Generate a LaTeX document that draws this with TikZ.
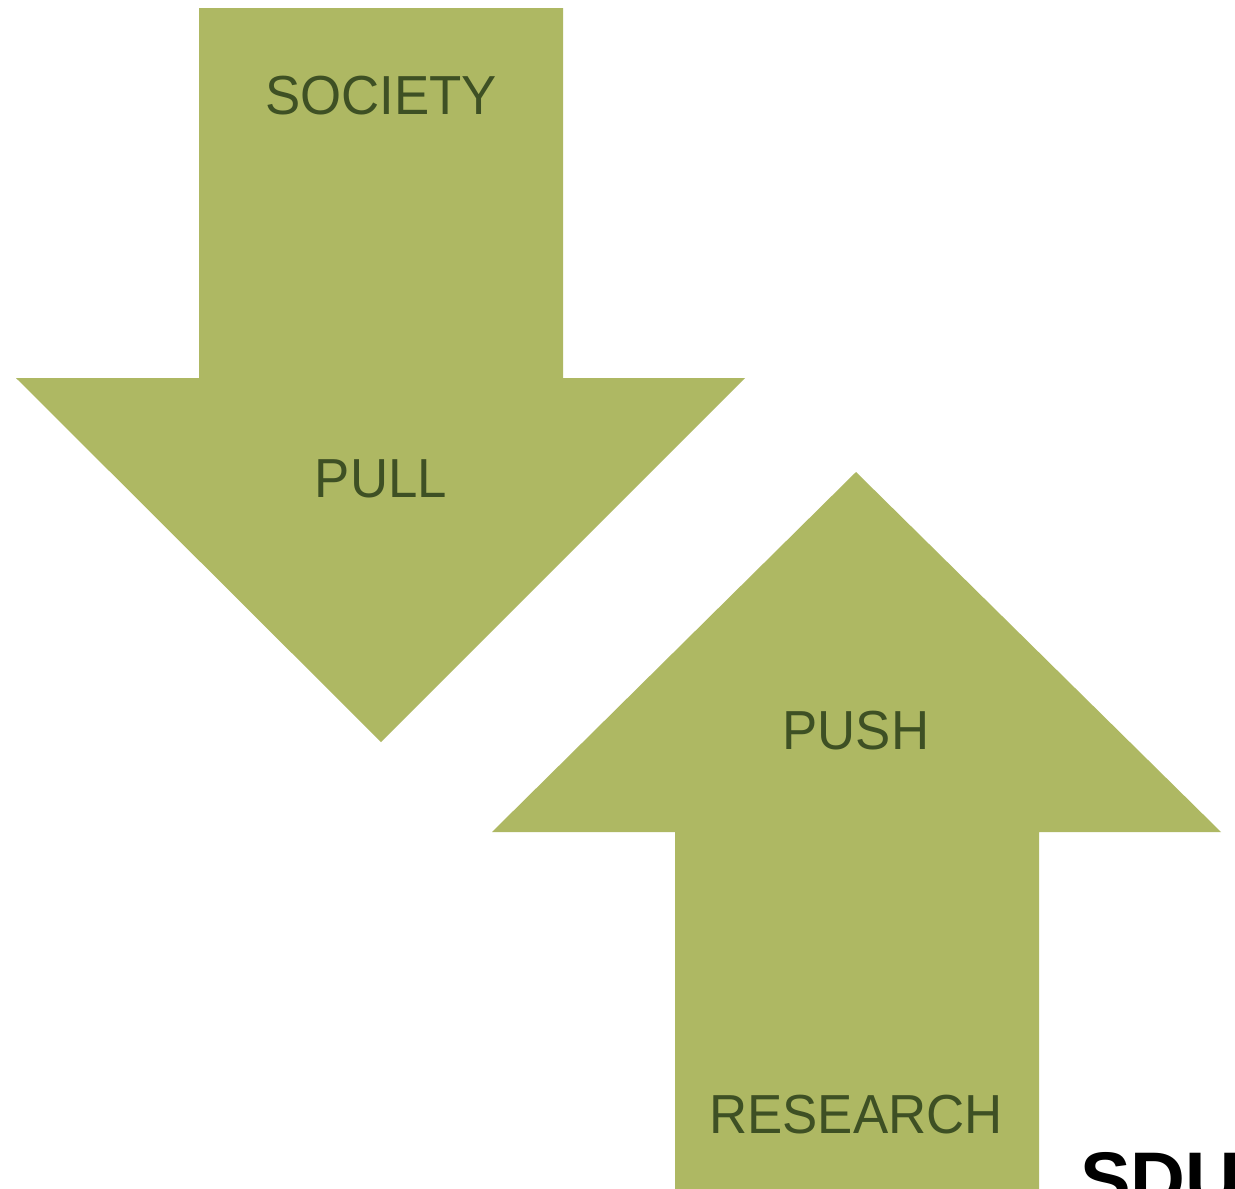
\documentclass[tikz,border=0pt]{standalone}
\usepackage{fontspec}
\setmainfont{Liberation Sans}
\definecolor{olive}{RGB}{174,184,99}
\definecolor{darkolive}{RGB}{62,80,36}
\begin{document}
\begin{tikzpicture}[x=1pt,y=-1pt,
  arrowfill/.style={fill=olive,draw=none},
  label/.style={text=darkolive,font=\fontsize{55}{58}\selectfont,anchor=base,inner sep=0pt,xscale=0.96}]
\clip (0,0) rectangle (1235,1189);
\fill[white] (0,0) rectangle (1235,1189);
% down arrow (pull)
\fill[arrowfill] (199,8) -- (563,8) -- (563,378) -- (745,378) -- (381,742) -- (16,378) -- (199,378) -- cycle;
% up arrow (push)
\fill[arrowfill] (856,472) -- (1221,832) -- (1039,832) -- (1039,1195) -- (675,1195) -- (675,832) -- (492,832) -- cycle;
\node[label] (society) at (381,114) {SOCIETY};
\node[label] (pull) at (381,497) {PULL};
\node[label] (push) at (856,749) {PUSH};
\node[label] (research) at (856,1133) {RESEARCH};
\node[anchor=base west,inner sep=0pt,font=\fontsize{76}{80}\selectfont\bfseries] (sdu) at (1080,1205) {SDU};
\end{tikzpicture}
\end{document}
